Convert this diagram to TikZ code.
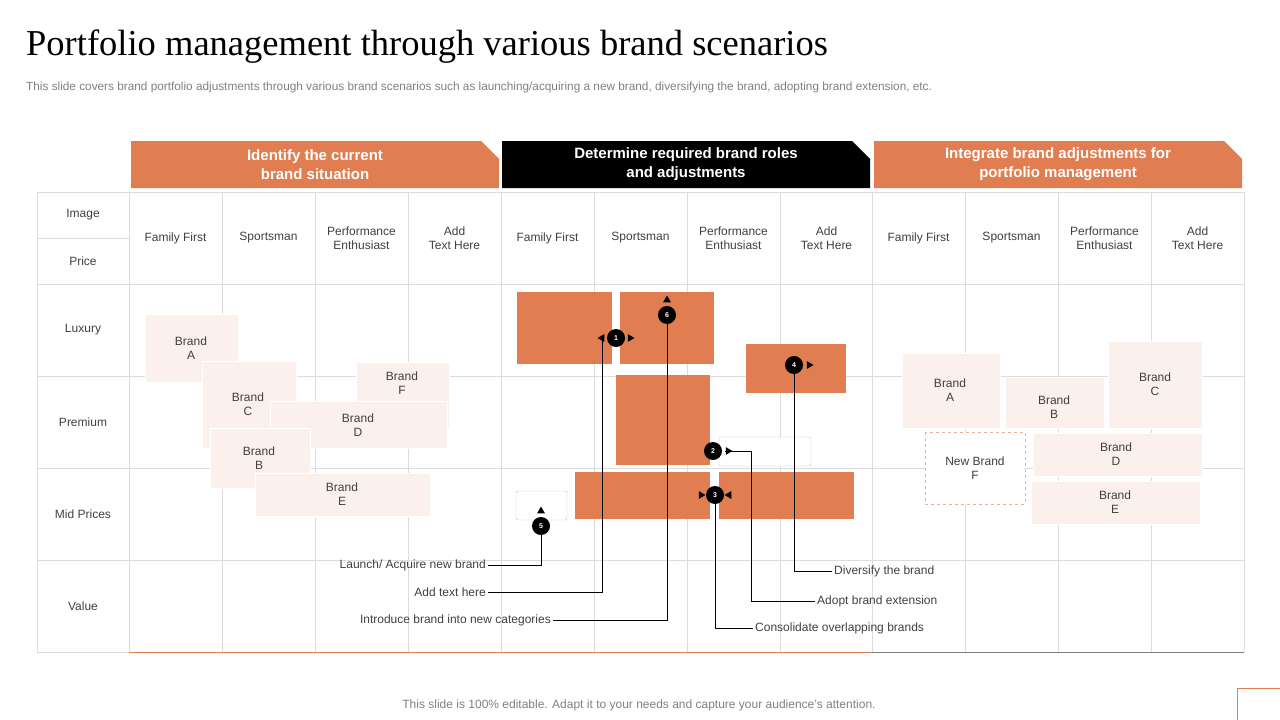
\documentclass[tikz,border=0pt]{standalone}
\usepackage{fontspec}
\setmainfont{Liberation Sans}
\newfontfamily\titlefont{Liberation Serif}
\definecolor{brandorange}{RGB}{224,126,82}
\definecolor{brandpink}{RGB}{251,240,236}
\definecolor{gridgray}{RGB}{220,220,220}
\definecolor{txtgray}{RGB}{64,64,64}
\tikzset{
  cell/.style={font=\fontsize{12}{14.5}\selectfont, text=txtgray, align=center, inner sep=0pt},
  brandbox/.style={fill=brandpink, draw=white, line width=1pt},
  whitebox/.style={fill=white, draw=gray!45, rounded corners=2pt},
  numdot/.style={circle, fill=black, text=white, inner sep=0pt, minimum size=18pt, font=\bfseries\fontsize{7}{7}\selectfont},
  tri/.style={regular polygon, regular polygon sides=3, fill=black, inner sep=0pt, minimum size=9pt},
  note/.style={font=\fontsize{12}{13}\selectfont, text=txtgray, inner sep=2pt},
  leader/.style={line width=1pt, black}
}
\usetikzlibrary{shapes.geometric}
\begin{document}
\begin{tikzpicture}[x=1pt,y=-1pt]
\useasboundingbox (0,0) rectangle (1280,720);
% title
\node[anchor=west, inner sep=0pt, font=\titlefont\fontsize{36.5}{37}\selectfont] (title) at (26,47) {Portfolio management through various brand scenarios};
\node[anchor=west, inner sep=0pt, text=gray, font=\fontsize{11.8}{12}\selectfont] (subtitle) at (26,87) {This slide covers brand portfolio adjustments through various brand scenarios such as launching/acquiring a new brand, diversifying the brand, adopting brand extension, etc.};
% banners
\fill[brandorange] (131,141) -- (481,141) -- (499,159) -- (499,188) -- (131,188) -- cycle;
\fill[black] (502,141) -- (852,141) -- (870,159) -- (870,188) -- (502,188) -- cycle;
\fill[brandorange] (874,141) -- (1224,141) -- (1242,159) -- (1242,188) -- (874,188) -- cycle;
\node[text=white, font=\bfseries\fontsize{15}{19}\selectfont, align=center] (head1) at (315,164.5) {Identify the current\\brand situation};
\node[text=white, font=\bfseries\fontsize{15}{19}\selectfont, align=center] (head2) at (686,164.5) {Determine required brand roles\\and adjustments};
\node[text=white, font=\bfseries\fontsize{15}{19}\selectfont, align=center] (head3) at (1058,164.5) {Integrate brand adjustments for\\portfolio management};
% grid
\draw[gridgray] (37,192) -- (1244,192) (37,238) -- (129,238);
\foreach \y in {284,376,468,560,652} \draw[gridgray] (37,\y) -- (1244,\y);
\foreach \x in {37,129,222,315,408,501,594,687,780,872,965,1058,1151,1244} \draw[gridgray] (\x,192) -- (\x,652);
\draw[brandorange, line width=1pt] (129,652) -- (872,652);
\draw[gray, line width=1pt] (872,652) -- (1244,652);
% row labels
\node[cell] (image) at (83,215) {Image};
\node[cell] (price) at (83,261) {Price};
\node[cell] (luxury) at (83,330) {Luxury};
\node[cell] (premium) at (83,422) {Premium};
\node[cell] (mid) at (83,514) {Mid Prices};
\node[cell] (value) at (83,606) {Value};
% column labels
\foreach \x [count=\i] in {175.5,547.5,918.5} {
  \node[cell] (ff\i) at (\x,238) {Family First};
  \node[cell] (sp\i) at (\x+93,238) {Sportsman};
  \node[cell] (pe\i) at (\x+186,238) {Performance\\Enthusiast};
  \node[cell] (at\i) at (\x+279,238) {Add\\Text Here};
}
% current brands
\draw[brandbox] (145,314) rectangle (238,382);
\node[cell] (lA) at (191,348) {Brand\\A};
\draw[brandbox] (202,361) rectangle (296,448);
\node[cell] (lC) at (248,404) {Brand\\C};
\draw[brandbox] (356,362) rectangle (449,428);
\node[cell] (lF) at (402,383) {Brand\\F};
\draw[brandbox] (270,401) rectangle (447,448);
\node[cell] (lD) at (358,425) {Brand\\D};
\draw[brandbox] (210,428) rectangle (310,488);
\node[cell] (lB) at (259,458) {Brand\\B};
\draw[brandbox] (255,473) rectangle (430,516);
\node[cell] (lE) at (342,494) {Brand\\E};
% adjustments
\fill[brandorange] (517,292) rectangle (612,364);
\fill[brandorange] (620,292) rectangle (714,364);
\fill[brandorange] (746,344) rectangle (846,393);
\fill[brandorange] (616,375) rectangle (710,465);
\fill[brandorange] (575,472) rectangle (710,519);
\fill[brandorange] (719,472) rectangle (854,519);
\draw[whitebox] (719,437) rectangle (811,466);
\draw[whitebox] (516,491) rectangle (567,520);
% leaders
\node[note, anchor=east] (t5) at (488,565) {Launch/ Acquire new brand};
\node[note, anchor=east] (t1) at (488,592) {Add text here};
\node[note, anchor=east] (t6) at (553,620) {Introduce brand into new categories};
\node[note, anchor=west] (t4) at (832,571) {Diversify the brand};
\node[note, anchor=west] (t2) at (815,601) {Adopt brand extension};
\node[note, anchor=west] (t3) at (753,628) {Consolidate overlapping brands};
\node[tri, shape border rotate=90] (a1) at (602,338) {};
\draw[leader] (t1.east) -| (a1.center);
\draw[leader] (t5.east) -| (541,526);
\draw[leader] (t6.east) -| (667,315);
\draw[leader] (t4.west) -| (794,365);
\draw[leader] (t3.west) -| (715,495);
\coordinate (k2) at (751,451);
\draw[leader] (t2.west) -| (k2) -- (725,451);
\node[numdot] (n1) at (616,338) {1};
\node[tri, shape border rotate=-90] (b1) at (630,338) {};
\node[numdot] (n6) at (667,315) {6};
\node[tri] (b6) at (667,300) {};
\node[numdot] (n4) at (794,365) {4};
\node[tri, shape border rotate=-90] (b4) at (809,365) {};
\node[numdot] (n2) at (713,451) {2};
\node[tri, shape border rotate=-90] (b2) at (728,451) {};
\node[numdot] (n3) at (715,495) {3};
\node[tri, shape border rotate=-90] (b3a) at (701,495) {};
\node[tri, shape border rotate=90] (b3b) at (729,495) {};
\node[numdot] (n5) at (541,526) {5};
\node[tri] (b5) at (541,511) {};
% integrated portfolio
\draw[brandbox] (902,353) rectangle (1000,428);
\node[cell] (rA) at (950,390) {Brand\\A};
\draw[brandbox] (1005,377) rectangle (1104,428);
\node[cell] (rB) at (1054,407) {Brand\\B};
\draw[brandbox] (1108,341) rectangle (1202,428);
\node[cell] (rC) at (1155,384) {Brand\\C};
\draw[brandbox] (1033,433) rectangle (1202,476);
\node[cell] (rD) at (1116,454) {Brand\\D};
\draw[brandbox] (1031,481) rectangle (1200,524);
\node[cell] (rE) at (1115,502) {Brand\\E};
\draw[brandorange!60, dashed, fill=white] (925,432) rectangle (1025,504);
\node[cell] (rF) at (975,468) {New Brand\\F};
% footer
\node[text=gray, font=\fontsize{12}{13}\selectfont] (footer) at (639,705) {This slide is 100\% editable. Adapt it to your needs and capture your audience's attention.};
\draw[brandorange, line width=1pt] (1237,720) -- (1237,688) -- (1280,688);
\end{tikzpicture}
\end{document}
